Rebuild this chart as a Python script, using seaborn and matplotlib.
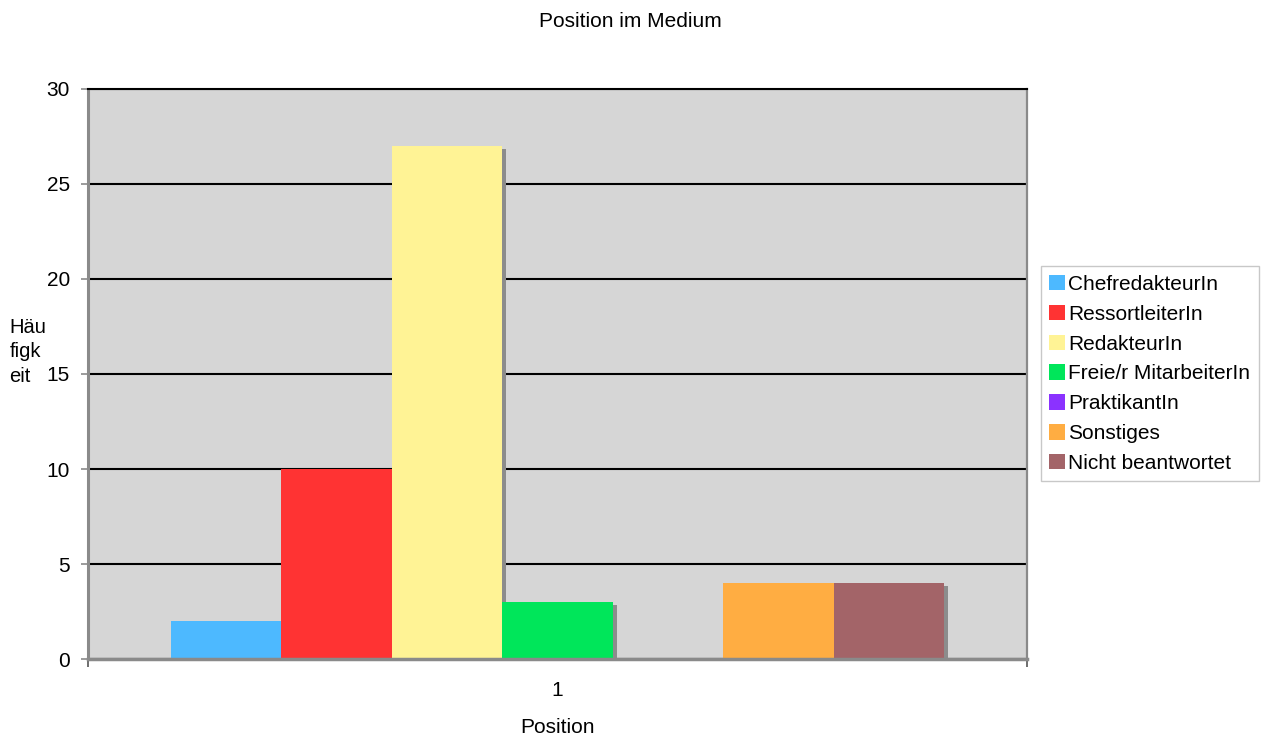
import matplotlib
matplotlib.use("Agg")
import matplotlib.pyplot as plt
import matplotlib.patheffects as pe
from matplotlib.patches import Patch
from matplotlib.ticker import FixedLocator
import pandas as pd
import seaborn as sns

# Survey data: position held in the medium
categories = ["1"]
series = ["ChefredakteurIn", "RessortleiterIn", "RedakteurIn",
          "Freie/r MitarbeiterIn", "PraktikantIn", "Sonstiges",
          "Nicht beantwortet"]
counts = [2, 10, 27, 3, 0, 4, 4]
colors = ["#4DB9FF", "#FF3333", "#FFF395", "#00E65A", "#8B32FF",
          "#FFAD42", "#A36468"]
y_ticks = [0, 5, 10, 15, 20, 25, 30]

df = pd.DataFrame({
    "Position": categories * len(series),
    "Serie": series,
    "Häufigkeit": counts,
})

sns.set_theme(style="white")
plt.rcParams["font.family"] = ["Liberation Sans", "DejaVu Sans"]
plt.rcParams["text.color"] = "black"
plt.rcParams["axes.labelcolor"] = "black"

fig = plt.figure(figsize=(12.61, 7.36), dpi=100)
ax = fig.add_axes([0.0698, 0.1046, 0.7446, 0.7745])
ax.set_facecolor("#D6D6D6")

sns.barplot(data=df, x="Position", y="Häufigkeit", hue="Serie",
            hue_order=series, palette=colors, saturation=1,
            width=0.824, linewidth=0, ax=ax, legend=False)

# drop shadow behind each bar
shadow = [pe.SimplePatchShadow(offset=(3, -2.3), shadow_rgbFace="#8C8C8C", alpha=1.0),
          pe.Normal()]
for bar in ax.patches:
    bar.set_path_effects(shadow)

ax.set_xlim(-0.5, 0.5)
ax.set_ylim(0, 30)
ax.yaxis.set_major_locator(FixedLocator(y_ticks))
ax.set_axisbelow(True)
ax.yaxis.grid(True, color="black", linewidth=1.5)
ax.xaxis.grid(False)

for side in ["left", "bottom", "right"]:
    ax.spines[side].set_color("#8A8A8A")
ax.spines["left"].set_linewidth(2.2)
ax.spines["bottom"].set_linewidth(2.5)
ax.spines["right"].set_linewidth(1.6)
ax.spines["top"].set_color("black")
ax.spines["top"].set_linewidth(1.5)

ax.tick_params(axis="y", which="major", left=True, length=5, width=1.2,
               color="#8A8A8A", labelsize=15, pad=8, labelcolor="black")
ax.tick_params(axis="x", which="major", bottom=True, length=0,
               labelsize=15, pad=16, labelcolor="black")
ax.xaxis.set_minor_locator(FixedLocator([-0.5, 0.5]))
ax.tick_params(axis="x", which="minor", bottom=True, length=6, width=1.2,
               color="#555555")

ax.set_xlabel("Position", fontsize=15, labelpad=13, color="black")
ax.set_ylabel("")

fig.text(0.0075, 0.522, "Häu\nfigk\neit", fontsize=14.5, ha="left",
         va="center", linespacing=1.35)
fig.text(0.5, 0.971, "Position im Medium", fontsize=15, ha="center",
         va="center")

handles = [Patch(facecolor=c, edgecolor="none", label=s)
           for s, c in zip(series, colors)]
ax.legend(handles=handles, loc="center left",
          bbox_to_anchor=(0.8255, 0.492), bbox_transform=fig.transFigure,
          fontsize=15, frameon=True, fancybox=False, edgecolor="#C8C8C8",
          facecolor="white", framealpha=1, handlelength=0.77,
          handleheight=0.77, handletextpad=0.15, labelspacing=0.52,
          borderpad=0.4, borderaxespad=0)

fig.savefig("out.png", dpi=100, facecolor="white")
